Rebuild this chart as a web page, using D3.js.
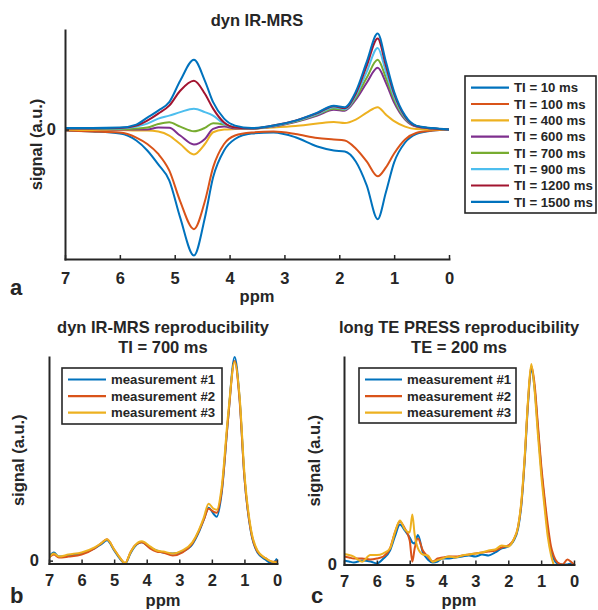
<!DOCTYPE html>
<html>
<head>
<meta charset="utf-8">
<script src="https://cdn.jsdelivr.net/npm/d3@7"></script>
<style>
	body { margin: 0; background: #ffffff; }
	text { font-family: "Liberation Sans", Arial, sans-serif; font-weight: bold; fill: #262626; }
</style>
</head>
<body>
<svg id="chart" width="598" height="610"></svg>
<script>

// ---- Data: panel a (dyn IR-MRS, one spectrum per inversion time) ----
var ppmA = [7.0, 6.5, 6.0, 5.7, 5.5, 5.3, 5.1, 4.9, 4.65, 4.45, 4.3, 4.1, 3.9, 3.6, 3.2, 2.8, 2.4, 2.1, 1.9, 1.7, 1.5, 1.3, 1.15, 1.0, 0.8, 0.6, 0.3, 0.0];
var tiLabels = ["TI = 10 ms", "TI = 100 ms", "TI = 400 ms", "TI = 600 ms", "TI = 700 ms", "TI = 900 ms", "TI = 1200 ms", "TI = 1500 ms"];
var signalTI10   = [-0.01, -0.02, -0.04, -0.11, -0.21, -0.35, -0.51, -0.885, -1.265, -0.885, -0.48, -0.21, -0.095, -0.04, -0.03, -0.077, -0.17, -0.21, -0.22, -0.32, -0.56, -0.9, -0.63, -0.33, -0.13, -0.045, -0.01, 0.0];
var signalTI100  = [-0.01, -0.02, -0.03, -0.08, -0.145, -0.245, -0.41, -0.72, -1.0, -0.72, -0.38, -0.145, -0.06, -0.03, -0.02, -0.044, -0.085, -0.1, -0.11, -0.19, -0.32, -0.47, -0.38, -0.24, -0.1, -0.035, -0.01, 0.0];
var signalTI400  = [0.0, -0.005, -0.005, -0.01, -0.01, -0.02, -0.06, -0.145, -0.25, -0.145, -0.027, 0.0, 0.005, 0.01, 0.02, 0.035, 0.06, 0.075, 0.065, 0.1, 0.17, 0.225, 0.15, 0.085, 0.03, 0.005, 0.0, 0.0];
var signalTI600  = [0.005, 0.005, 0.0, 0.0, 0.0, 0.02, 0.017, -0.06, -0.15, -0.095, 0.007, 0.03, 0.01, 0.01, 0.03, 0.075, 0.14, 0.2, 0.19, 0.3, 0.47, 0.62, 0.47, 0.27, 0.1, 0.03, 0.01, 0.0];
var signalTI700  = [0.005, 0.005, 0.005, 0.01, 0.02, 0.055, 0.073, 0.03, -0.017, 0.017, 0.064, 0.05, 0.02, 0.01, 0.035, 0.08, 0.15, 0.21, 0.2, 0.32, 0.52, 0.70, 0.52, 0.3, 0.11, 0.035, 0.01, 0.0];
var signalTI900  = [0.01, 0.01, 0.01, 0.03, 0.06, 0.11, 0.14, 0.175, 0.21, 0.175, 0.14, 0.057, 0.02, 0.01, 0.035, 0.085, 0.155, 0.225, 0.205, 0.34, 0.58, 0.82, 0.58, 0.33, 0.12, 0.035, 0.01, 0.0];
var signalTI1200 = [0.01, 0.01, 0.015, 0.04, 0.09, 0.16, 0.24, 0.39, 0.49, 0.36, 0.21, 0.07, 0.02, 0.01, 0.04, 0.09, 0.165, 0.235, 0.215, 0.36, 0.64, 0.915, 0.64, 0.36, 0.13, 0.035, 0.01, 0.0];
var signalTI1500 = [0.015, 0.015, 0.02, 0.05, 0.12, 0.19, 0.275, 0.49, 0.70, 0.49, 0.275, 0.11, 0.04, 0.015, 0.04, 0.09, 0.17, 0.24, 0.225, 0.38, 0.68, 0.965, 0.68, 0.38, 0.14, 0.04, 0.015, 0.0];

// ---- Data: panel b (dyn IR-MRS reproducibility, TI = 700 ms) ----
var ppmB = [7.0, 6.85, 6.7, 6.4, 6.0, 5.6, 5.4, 5.22, 5.0, 4.85, 4.66, 4.5, 4.36, 4.15, 3.9, 3.7, 3.5, 3.2, 2.9, 2.6, 2.4, 2.25, 2.1, 1.95, 1.85, 1.7, 1.5, 1.3, 1.15, 1.0, 0.8, 0.6, 0.35, 0.15, 0.0];
var measLabels = ["measurement #1", "measurement #2", "measurement #3"];
var reproB1 = [0.02, 0.04, 0.02, 0.025, 0.035, 0.06, 0.08, 0.1, 0.05, 0.015, -0.014, 0.035, 0.07, 0.09, 0.065, 0.05, 0.04, 0.035, 0.045, 0.08, 0.14, 0.2, 0.26, 0.23, 0.215, 0.33, 0.7, 1.0, 0.8, 0.41, 0.14, 0.04, 0.005, -0.014, 0.01];
var reproB2 = [0.015, 0.03, 0.015, 0.02, 0.03, 0.06, 0.085, 0.105, 0.055, 0.02, -0.012, 0.04, 0.075, 0.09, 0.06, 0.045, 0.04, 0.025, 0.04, 0.085, 0.145, 0.2, 0.255, 0.24, 0.235, 0.34, 0.7, 0.98, 0.79, 0.41, 0.145, 0.045, 0.012, -0.005, -0.005];
var reproB3 = [0.016, 0.035, 0.02, 0.03, 0.04, 0.065, 0.085, 0.105, 0.055, 0.02, -0.012, 0.04, 0.075, 0.095, 0.07, 0.05, 0.045, 0.035, 0.05, 0.09, 0.15, 0.21, 0.28, 0.255, 0.25, 0.36, 0.72, 0.975, 0.81, 0.43, 0.155, 0.05, 0.012, -0.005, -0.01];

// ---- Data: panel c (long TE PRESS reproducibility, TE = 200 ms) ----
var ppmC = [7.0, 6.85, 6.7, 6.45, 6.2, 6.0, 5.8, 5.6, 5.45, 5.3, 5.15, 5.0, 4.92, 4.85, 4.75, 4.6, 4.45, 4.3, 4.15, 4.0, 3.8, 3.6, 3.4, 3.2, 3.0, 2.8, 2.6, 2.4, 2.2, 2.0, 1.85, 1.7, 1.6, 1.5, 1.4, 1.3, 1.2, 1.1, 1.0, 0.9, 0.8, 0.7, 0.62, 0.5, 0.35, 0.2, 0.1, 0.0];
var reproC1 = [0.02, 0.015, 0.01, 0.02, 0.015, 0.005, 0.03, 0.07, 0.14, 0.2, 0.17, 0.135, 0.11, 0.105, 0.147, 0.06, 0.025, 0.01, 0.015, 0.03, 0.03, 0.035, 0.04, 0.045, 0.04, 0.05, 0.045, 0.06, 0.08, 0.09, 0.115, 0.18, 0.3, 0.52, 0.8, 0.975, 0.88, 0.68, 0.48, 0.32, 0.17, 0.07, 0.03, 0.005, 0.0, 0.0, 0.005, 0.0];
var reproC2 = [0.04, 0.035, 0.03, 0.03, 0.025, 0.03, 0.04, 0.08, 0.16, 0.215, 0.18, 0.12, 0.014, 0.08, 0.13, 0.07, 0.04, 0.015, 0.03, 0.035, 0.04, 0.04, 0.045, 0.05, 0.055, 0.06, 0.065, 0.07, 0.085, 0.095, 0.12, 0.19, 0.31, 0.53, 0.81, 0.99, 0.9, 0.7, 0.5, 0.34, 0.2, 0.09, 0.045, 0.01, 0.0, 0.025, 0.015, 0.0];
var reproC3 = [0.052, 0.047, 0.039, 0.014, 0.047, 0.047, 0.056, 0.08, 0.16, 0.22, 0.175, 0.16, 0.25, 0.15, 0.08, 0.05, 0.045, 0.014, 0.022, 0.03, 0.04, 0.035, 0.045, 0.05, 0.055, 0.06, 0.07, 0.075, 0.095, 0.09, 0.12, 0.19, 0.32, 0.54, 0.82, 1.0, 0.87, 0.65, 0.45, 0.29, 0.14, 0.047, 0.0, null, null, null, null, null];

var xTickValues = [7, 6, 5, 4, 3, 2, 1, 0];
var yTickValues = [0];

// MATLAB default line colours
var lineColors = ["#0072BD", "#D95319", "#EDB120", "#7E2F8E", "#77AC30", "#4DBEEE", "#A2142F", "#0072BD"];

var ink = "#262626";
var svg = d3.select("#chart");

// Draw one spectrum panel with its axes, labels and legend
function drawPanel(cfg){
	var g = svg.append("g");

	var x = d3.scaleLinear().domain([7, 0]).range([cfg.left, cfg.right]);
	var y = d3.scaleLinear().domain(cfg.yDomain).range([cfg.bottom, cfg.top]);

	// clip so the traces stay inside the axes box
	g.append("clipPath").attr("id", "clip_" + cfg.id)
		.append("rect")
		.attr("x", cfg.left)
		.attr("y", cfg.top - 2)
		.attr("width", cfg.right - cfg.left + 2)
		.attr("height", cfg.bottom - cfg.top + 3);

	var line = d3.line()
		.defined(function(d){ return d.v != null; })
		.x(function(d){ return x(d.ppm); })
		.y(function(d){ return y(d.v); })
		.curve(d3.curveMonotoneX);

	var traces = g.append("g").attr("clip-path", "url(#clip_" + cfg.id + ")");
	cfg.series.forEach(function(values, i){
		var pts = cfg.ppm.map(function(p, j){ return {ppm: p, v: values[j]}; });
		traces.append("path")
			.datum(pts)
			.attr("d", line)
			.attr("fill", "none")
			.attr("stroke", cfg.colors[i])
			.attr("stroke-width", 2)
			.attr("stroke-linejoin", "round");
	});

	// axes (ticks point inward like MATLAB)
	var xAxis = d3.axisBottom(x).tickValues(xTickValues).tickFormat(d3.format("d"))
		.tickSizeInner(-4).tickSizeOuter(0).tickPadding(cfg.xPad);
	var yAxis = d3.axisLeft(y).tickValues(yTickValues).tickFormat(d3.format("d"))
		.tickSizeInner(-4).tickSizeOuter(0).tickPadding(cfg.yPad);

	var gx = g.append("g").attr("transform", "translate(0," + cfg.bottom + ")").call(xAxis);
	var gy = g.append("g").attr("transform", "translate(" + cfg.left + ",0)").call(yAxis);

	[gx, gy].forEach(function(ax){
		ax.select(".domain").attr("stroke", ink).attr("stroke-width", 2).attr("stroke-linecap", "square");
		ax.selectAll(".tick line").attr("stroke", ink).attr("stroke-width", 1.5);
		ax.selectAll("text").style("font-size", "16.5px");
	});

	var cx = (cfg.left + cfg.right) / 2;

	// titles
	cfg.title.forEach(function(t, i){
		g.append("text")
			.attr("x", cx)
			.attr("y", cfg.titleY + i * 19.5)
			.attr("text-anchor", "middle")
			.style("font-size", "16.5px")
			.text(t);
	});

	g.append("text")
		.attr("x", cx)
		.attr("y", cfg.xLabelY)
		.attr("text-anchor", "middle")
		.style("font-size", "16.5px")
		.text("ppm");

	g.append("text")
		.attr("transform", "translate(" + cfg.yLabelX + "," + ((cfg.top + cfg.bottom) / 2) + ") rotate(-90)")
		.attr("text-anchor", "middle")
		.style("font-size", "16.5px")
		.text("signal (a.u.)");

	g.append("text")
		.attr("x", cfg.letterX)
		.attr("y", cfg.letterY)
		.style("font-size", "22px")
		.text(cfg.letter);

	// legend
	var lg = cfg.legend;
	g.append("rect")
		.attr("x", lg.x)
		.attr("y", lg.y)
		.attr("width", lg.w)
		.attr("height", lg.h)
		.attr("fill", "#ffffff")
		.attr("stroke", ink)
		.attr("stroke-width", 1.6);

	lg.labels.forEach(function(label, i){
		var ly = lg.y + lg.first + i * lg.step;
		g.append("line")
			.attr("x1", lg.x + 6)
			.attr("x2", lg.x + 6 + lg.lineLen)
			.attr("y1", ly)
			.attr("y2", ly)
			.attr("stroke", cfg.colors[i])
			.attr("stroke-width", 2.2);
		g.append("text")
			.attr("x", lg.x + 11 + lg.lineLen)
			.attr("y", ly)
			.attr("dy", "0.36em")
			.style("font-size", "13.2px")
			.text(label);
	});
}

// Panel a
drawPanel({
	id: "a", left: 65, right: 449, top: 30, bottom: 259,
	yDomain: [-1.3, 1.0], xPad: 13, yPad: 9,
	ppm: ppmA,
	series: [signalTI10, signalTI100, signalTI400, signalTI600, signalTI700, signalTI900, signalTI1200, signalTI1500],
	colors: lineColors,
	title: ["dyn IR-MRS"], titleY: 26,
	xLabelY: 302, yLabelX: 42,
	letter: "a", letterX: 10, letterY: 295,
	legend: {x: 465, y: 76, w: 131, h: 137, first: 11.7, step: 16.3, lineLen: 38, labels: tiLabels}
});

// Panel b
drawPanel({
	id: "b", left: 49, right: 277, top: 357, bottom: 563.5,
	yDomain: [-0.014, 1.0], xPad: 11, yPad: 10,
	ppm: ppmB,
	series: [reproB1, reproB2, reproB3],
	colors: lineColors.slice(0, 3),
	title: ["dyn IR-MRS reproducibility", "TI = 700 ms"], titleY: 333,
	xLabelY: 605.5, yLabelX: 24,
	letter: "b", letterX: 10, letterY: 603,
	legend: {x: 62, y: 368, w: 160, h: 56, first: 11.5, step: 16.6, lineLen: 38, labels: measLabels}
});

// Panel c
drawPanel({
	id: "c", left: 344, right: 574, top: 357, bottom: 564.5,
	yDomain: [0, 1.035], xPad: 11, yPad: 7,
	ppm: ppmC,
	series: [reproC1, reproC2, reproC3],
	colors: lineColors.slice(0, 3),
	title: ["long TE PRESS reproducibility", "TE = 200 ms"], titleY: 333,
	xLabelY: 605.5, yLabelX: 320,
	letter: "c", letterX: 311, letterY: 603,
	legend: {x: 359, y: 368, w: 157, h: 55, first: 11.5, step: 16.6, lineLen: 37, labels: measLabels}
});

</script>
</body>
</html>
